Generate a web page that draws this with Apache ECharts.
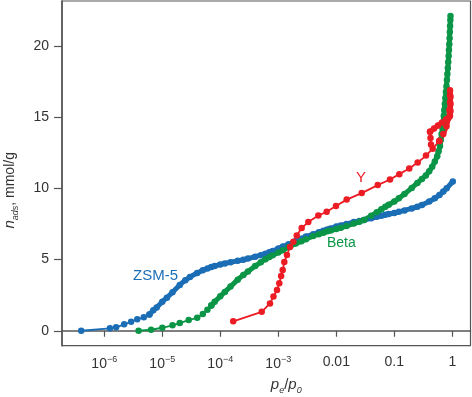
<!DOCTYPE html>
<html>
<head>
<meta charset="utf-8">
<script src="https://cdn.jsdelivr.net/npm/echarts@6/dist/echarts.min.js"></script>
<style>
  html, body { margin: 0; padding: 0; background: #fff; }
  #chart { width: 472px; height: 397px; }
</style>
</head>
<body>
<div id="chart"></div>
<script>
'use strict';

const COLOR_ZSM = '#1b6eb5';
const COLOR_BETA = '#0b9546';
const COLOR_Y = '#ec1c24';
const AXIS_COLOR = '#555';
const FONT = '"Liberation Sans", Arial, sans-serif';

// p_e/p_0 ticks and their labels
const xTicks = [1e-6, 1e-5, 1e-4, 1e-3, 0.01, 0.1, 1];
const xTickLabels = ['{b|10}{s|−6}', '{b|10}{s|−5}', '{b|10}{s|−4}', '{b|10}{s|−3}', '0.01', '0.1', '1'];
const yTicks = [0, 5, 10, 15, 20];

// ZSM-5
const zsmP = [4.0e-7, 1.25e-6, 1.6e-6, 2.2e-6, 2.9e-6, 3.7e-6, 4.8e-6, 6.0e-6,
  7e-6, 8e-6, 1e-5, 1.2e-5, 1.5e-5, 2e-5, 2.5e-5, 3e-5, 4e-5, 5e-5,
  6e-5, 7e-5, 8e-5, 1e-4, 1.2e-4, 1.5e-4, 2e-4, 2.5e-4, 3e-4, 4e-4,
  5e-4, 6e-4, 7e-4, 8e-4, 1e-3, 1.2e-3, 1.5e-3, 2e-3, 2.5e-3, 3e-3,
  4e-3, 5e-3, 6e-3, 7e-3, 8e-3, 0.01, 0.012, 0.015, 0.02, 0.025,
  0.03, 0.04, 0.05, 0.06, 0.07, 0.08, 0.1, 0.12, 0.15, 0.2,
  0.25, 0.3, 0.4, 0.5, 0.6, 0.7, 0.8, 1.02];
const zsmN = [0.00, 0.17, 0.24, 0.45, 0.63, 0.80, 0.94, 1.15,
  1.44, 1.64, 2.04, 2.32, 2.71, 3.22, 3.55, 3.78, 4.06, 4.25,
  4.37, 4.47, 4.54, 4.66, 4.73, 4.81, 4.91, 4.99, 5.07, 5.20,
  5.31, 5.41, 5.51, 5.60, 5.77, 5.91, 6.07, 6.30, 6.47, 6.62,
  6.77, 6.92, 7.03, 7.12, 7.19, 7.32, 7.40, 7.50, 7.63, 7.70,
  7.77, 7.90, 8.00, 8.08, 8.15, 8.20, 8.27, 8.35, 8.45, 8.59,
  8.71, 8.84, 9.08, 9.30, 9.54, 9.78, 10.00, 10.48];

// Beta
const betaP = [3.9e-6, 6.4e-6, 1.0e-5, 1.5e-5, 2.0e-5, 2.85e-5, 4.0e-5,
  5e-5, 6e-5, 7e-5, 8e-5, 1e-4, 1.2e-4, 1.5e-4, 2e-4, 2.5e-4, 3e-4,
  4e-4, 5e-4, 6e-4, 7e-4, 8e-4, 1e-3, 1.2e-3, 1.5e-3, 2e-3, 2.5e-3,
  3e-3, 4e-3, 5e-3, 6e-3, 7e-3, 8e-3, 0.01, 0.012, 0.015, 0.02,
  0.025, 0.03, 0.04, 0.05, 0.06, 0.07, 0.08, 0.1, 0.12, 0.15,
  0.2, 0.25, 0.3, 0.35, 0.4, 0.45, 0.5, 0.55, 0.58, 0.614,
  0.633, 0.655, 0.679, 0.698, 0.713, 0.728, 0.744, 0.760, 0.777, 0.794,
  0.809, 0.823, 0.838, 0.852, 0.865, 0.876, 0.888, 0.898, 0.907, 0.916,
  0.926, 0.931];
const betaN = [0.00, 0.07, 0.21, 0.38, 0.54, 0.75, 0.91,
  1.18, 1.47, 1.78, 2.03, 2.42, 2.73, 3.10, 3.59, 3.92, 4.16,
  4.54, 4.81, 5.02, 5.18, 5.30, 5.50, 5.65, 5.88, 6.12, 6.29,
  6.43, 6.66, 6.78, 6.89, 6.98, 7.04, 7.14, 7.23, 7.36, 7.53,
  7.65, 7.78, 8.07, 8.32, 8.53, 8.71, 8.85, 9.08, 9.30, 9.60,
  10.03, 10.38, 10.66, 10.91, 11.20, 11.52, 11.88, 12.25, 12.61, 12.97,
  13.39, 13.81, 14.23, 14.66, 15.08, 15.50, 15.92, 16.34, 16.76, 17.18,
  17.61, 18.03, 18.45, 18.87, 19.29, 19.71, 20.13, 20.55, 20.98, 21.40,
  21.82, 22.10];

// Y (adsorption, then desorption back to the loop closure)
const yP = [1.67e-4, 5.18e-4, 7.19e-4, 8.26e-4, 9.5e-4, 1.04e-3, 1.12e-3, 1.19e-3,
  1.27e-3, 1.41e-3, 1.59e-3, 1.82e-3, 2.08e-3, 2.53e-3, 3.29e-3, 4.90e-3,
  6.83e-3, 9.88e-3, 1.51e-2, 2.74e-2, 5.18e-2, 8.43e-2, 0.122, 0.181,
  0.253, 0.352, 0.459, 0.597, 0.700, 0.794, 0.860, 0.895, 0.913, 0.913,
  0.913, 0.931, 0.931, 0.931, 0.913, 0.779, 0.664, 0.567, 0.484, 0.413,
  0.421, 0.429];
const yN = [0.66, 1.33, 1.92, 2.40, 2.86, 3.33, 3.84, 4.26,
  4.82, 5.32, 5.88, 6.25, 6.69, 7.21, 7.63, 8.09,
  8.36, 8.76, 9.21, 9.67, 10.23, 10.62, 11.00, 11.40,
  11.81, 12.30, 12.79, 13.32, 13.81, 14.37, 14.94, 15.50, 16.06, 16.55,
  16.90, 16.41, 15.92, 15.43, 15.08, 14.83, 14.62, 14.41, 14.20, 13.97,
  13.53, 13.08];

// index ranges where the measured points are so close they merge into a band
const zsmDense = [7, zsmP.length];
const betaDense = [9, betaP.length];
const yDense = [27, 44];

function zip(xs, ys, from, to) {
  let out = [];
  for (let i = from; i < to; i++) {
    out.push([xs[i], ys[i]]);
  }
  return out;
}

function segment(name, color, data, width) {
  return {
    name: name,
    type: 'line',
    data: data,
    symbol: 'circle',
    symbolSize: 6.5,
    showSymbol: true,
    showAllSymbol: true,
    smooth: false,
    itemStyle: { color: color },
    lineStyle: { color: color, width: width },
    emphasis: { disabled: true }
  };
}

function isotherm(name, color, xs, ys, dense) {
  let parts = [];
  if (dense[0] > 0) {
    parts.push(segment(name, color, zip(xs, ys, 0, dense[0] + 1), 1.8));
  }
  parts.push(segment(name, color, zip(xs, ys, dense[0], dense[1]), 5));
  if (dense[1] < xs.length) {
    parts.push(segment(name, color, zip(xs, ys, dense[1] - 1, xs.length), 1.8));
  }
  return parts;
}

function xLabel(value) {
  for (let i = 0; i < xTicks.length; i++) {
    if (Math.abs(Math.log10(xTicks[i]) - Math.log10(value)) < 1e-6) {
      return xTickLabels[i];
    }
  }
  return '';
}

const chart = echarts.init(document.getElementById('chart'), null, { renderer: 'canvas' });

const option = {
  animation: false,
  textStyle: { fontFamily: FONT },
  grid: {
    left: 62, right: 1.5, top: 1, bottom: 51.3,
    containLabel: false,
    outerBoundsMode: 'none',
    show: true, borderColor: AXIS_COLOR, borderWidth: 1.2
  },
  xAxis: {
    type: 'log',
    logBase: 10,
    min: 1.866e-7,
    max: 2.06,
    axisLine: { lineStyle: { color: AXIS_COLOR, width: 1.5 } },
    axisTick: { length: 6, customValues: xTicks, lineStyle: { color: AXIS_COLOR, width: 1.2 } },
    axisLabel: {
      customValues: xTicks,
      formatter: xLabel,
      margin: 9,
      color: '#333',
      fontSize: 14,
      rich: {
        b: { fontSize: 14, color: '#333', lineHeight: 18, fontFamily: FONT },
        s: { fontSize: 9, color: '#333', verticalAlign: 'top', fontFamily: FONT }
      }
    },
    splitLine: { show: false },
    minorTick: { show: false },
    name: '{i|p}{s|e}{t|/}{i|p}{s|0}',
    nameLocation: 'middle',
    nameGap: 29,
    nameTextStyle: {
      padding: [0, 0, 0, 40],
      rich: {
        i: { fontSize: 15, fontStyle: 'italic', color: '#333', lineHeight: 20, fontFamily: FONT },
        t: { fontSize: 15, color: '#333', lineHeight: 20, fontFamily: FONT },
        s: { fontSize: 9, fontStyle: 'italic', color: '#333', verticalAlign: 'bottom', fontFamily: FONT }
      }
    }
  },
  yAxis: {
    type: 'value',
    min: -1.05,
    max: 23.16,
    axisLine: { show: true, lineStyle: { color: AXIS_COLOR, width: 1.5 } },
    axisTick: { show: true, length: 8, customValues: yTicks, lineStyle: { color: AXIS_COLOR, width: 1.2 } },
    axisLabel: { customValues: yTicks, margin: 13, color: '#333', fontSize: 14 },
    splitLine: { show: false },
    name: '{i|n}{s|ads}{t|, mmol/g}',
    nameLocation: 'middle',
    nameGap: 42,
    nameTextStyle: {
      padding: [0, 34, 0, 0],
      rich: {
        i: { fontSize: 15, fontStyle: 'italic', color: '#333', lineHeight: 20, fontFamily: FONT },
        t: { fontSize: 14, color: '#333', lineHeight: 20, fontFamily: FONT },
        s: { fontSize: 9, fontStyle: 'italic', color: '#333', verticalAlign: 'bottom', fontFamily: FONT }
      }
    }
  },
  graphic: [
    { type: 'text', left: 133, top: 268, style: { text: 'ZSM-5', fill: COLOR_ZSM, font: '15px ' + FONT } },
    { type: 'text', left: 327, top: 236, style: { text: 'Beta', fill: COLOR_BETA, font: '14px ' + FONT } },
    { type: 'text', left: 356, top: 170, style: { text: 'Y', fill: COLOR_Y, font: '15px ' + FONT } }
  ],
  series: [].concat(
    isotherm('ZSM-5', COLOR_ZSM, zsmP, zsmN, zsmDense),
    isotherm('Beta', COLOR_BETA, betaP, betaN, betaDense),
    isotherm('Y', COLOR_Y, yP, yN, yDense)
  )
};

chart.setOption(option);
</script>
</body>
</html>
